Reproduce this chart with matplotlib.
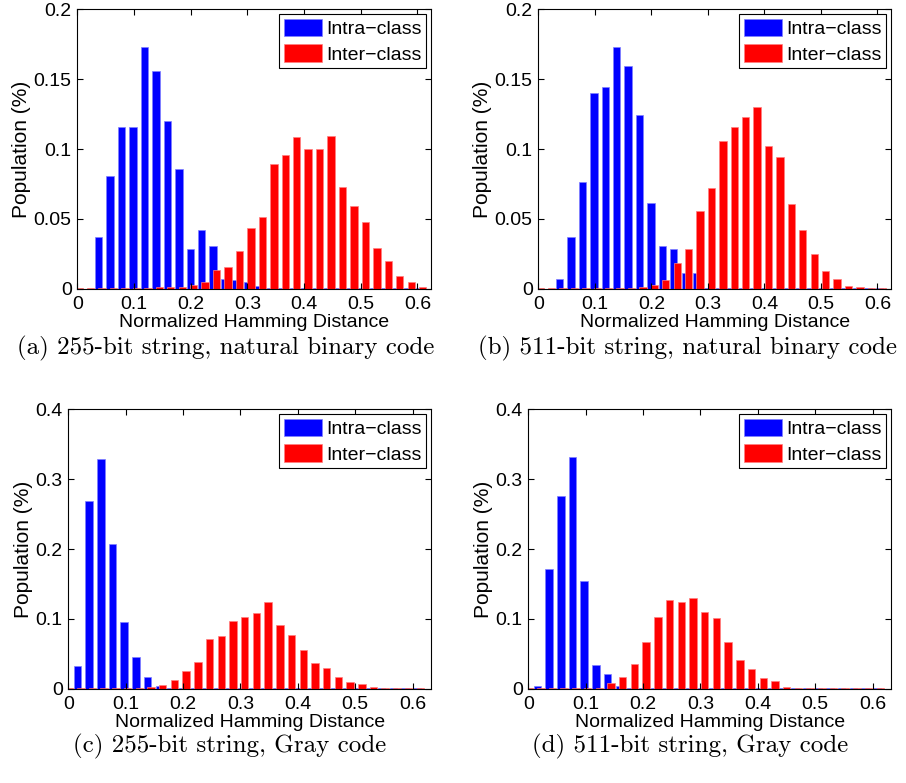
import numpy as np
import matplotlib
matplotlib.use("Agg")
import matplotlib.pyplot as plt

plt.rcParams["font.family"] = ["Liberation Sans", "DejaVu Sans"]

# histogram bin centres (normalized Hamming distance), one set per code type
bins_nbc = np.round(np.arange(31) * 0.0202 - 0.0027, 4)
bins_gray = np.round(np.arange(31) * 0.0204 - 0.0046, 4)

# (a) 255-bit, natural binary code
intra_a = [0, 0, 0.0373, 0.081, 0.1159, 0.1159, 0.1728, 0.1556, 0.1202, 0.0855,
           0.0287, 0.042, 0.0308, 0.0067, 0.006, 0.0046, 0.0022, 0.0005, 0.0004, 0.0004,
           0.0004, 0.0004, 0.0004, 0.0004, 0.0004, 0.0004, 0.0004, 0.0004, 0.0004, 0.0004, 0.0004]
inter_a = [0.0005, 0.0005, 0.0005, 0.0005, 0.0005, 0.0008, 0.0008, 0.001, 0.001, 0.0015,
           0.0024, 0.005, 0.0134, 0.0157, 0.027, 0.0432, 0.0514, 0.0896, 0.096, 0.1087,
           0.1001, 0.1001, 0.109, 0.0729, 0.0593, 0.0476, 0.0289, 0.0198, 0.0091, 0.0045, 0.0014]

# (b) 511-bit, natural binary code
intra_b = [0, 0, 0.0067, 0.0373, 0.0767, 0.140, 0.1443, 0.1728, 0.1596, 0.1245,
           0.0616, 0.0306, 0.0287, 0.0115, 0.0115, 0.0008, 0.0005, 0.0004, 0.0004, 0.0004,
           0.0004, 0.0004, 0.0004, 0.0004, 0.0004, 0.0004, 0.0004, 0.0004, 0.0004, 0.0004, 0.0004]
inter_b = [0.0005, 0.0005, 0.0005, 0.0005, 0.0005, 0.0005, 0.0005, 0.0005, 0.0005, 0.0014,
           0.003, 0.0062, 0.0185, 0.0286, 0.0559, 0.0722, 0.1054, 0.1154, 0.1231, 0.1302,
           0.102, 0.0944, 0.0605, 0.042, 0.0249, 0.0127, 0.0069, 0.0019, 0.0012, 0.0004, 0.0004]

# (c) 255-bit, Gray code
intra_c = [0, 0.0322, 0.2687, 0.3289, 0.2072, 0.0959, 0.0458, 0.0168, 0.0042, 0.0008,
           0.0008, 0.0008, 0.0008, 0.0008, 0.0008, 0.0008, 0.0008, 0.0008, 0.0008, 0.0008,
           0.0008, 0.0008, 0.0008, 0.0008, 0.0008, 0.0008, 0.0008, 0.0008, 0.0008, 0.0008, 0.0008]
inter_c = [0.0008, 0.0008, 0.0008, 0.0008, 0.0008, 0.0008, 0.0015, 0.003, 0.006, 0.0124,
           0.0253, 0.0377, 0.0711, 0.0754, 0.0974, 0.1031, 0.1088, 0.1241, 0.0912, 0.0773,
           0.0554, 0.0372, 0.0301, 0.0162, 0.0095, 0.0062, 0.0029, 0.0012, 0.0012, 0.0008, 0.0008]

# (d) 511-bit, Gray code
intra_d = [0, 0.0038, 0.1714, 0.2764, 0.3313, 0.1542, 0.0344, 0.021, 0.0038, 0.0008,
           0.0008, 0.0008, 0.0008, 0.0008, 0.0008, 0.0008, 0.0008, 0.0008, 0.0008, 0.0008,
           0.0008, 0.0008, 0.0008, 0.0008, 0.0008, 0.0008, 0.0008, 0.0008, 0.0008, 0.0008, 0.0008]
inter_d = [0.0008, 0.0008, 0.0008, 0.0008, 0.0008, 0.0008, 0.0015, 0.008, 0.0165, 0.0358,
           0.0668, 0.1026, 0.1265, 0.1246, 0.1303, 0.1103, 0.1017, 0.0668, 0.0406, 0.0282,
           0.0148, 0.011, 0.0029, 0.001, 0.0008, 0.0008, 0.0008, 0.0008, 0.0008, 0.0008, 0.0008]

x_ticks = [0, 0.1, 0.2, 0.3, 0.4, 0.5, 0.6]
x_tick_labels = ["0", "0.1", "0.2", "0.3", "0.4", "0.5", "0.6"]
y_ticks_nbc = [0, 0.05, 0.1, 0.15, 0.2]
y_tick_labels_nbc = ["0", "0.05", "0.1", "0.15", "0.2"]
y_ticks_gray = [0, 0.1, 0.2, 0.3, 0.4]
y_tick_labels_gray = ["0", "0.1", "0.2", "0.3", "0.4"]

captions = ["(a) 255-bit string, natural binary code",
            "(b) 511-bit string, natural binary code",
            "(c) 255-bit string, Gray code",
            "(d) 511-bit string, Gray code"]

W, H = 906, 783


def px_axes(left, top, right, bottom):
    return [left / W, 1 - bottom / H, (right - left) / W, (bottom - top) / H]


panels = [
    (px_axes(77.3, 9.3, 431, 288.7), bins_nbc, intra_a, inter_a, 0.624, 0.2,
     y_ticks_nbc, y_tick_labels_nbc),
    (px_axes(538.3, 9.3, 891, 288.7), bins_nbc, intra_b, inter_b, 0.624, 0.2,
     y_ticks_nbc, y_tick_labels_nbc),
    (px_axes(68.3, 409.3, 431, 688.7), bins_gray, intra_c, inter_c, 0.632, 0.4,
     y_ticks_gray, y_tick_labels_gray),
    (px_axes(528.3, 409.3, 891, 688.7), bins_gray, intra_d, inter_d, 0.632, 0.4,
     y_ticks_gray, y_tick_labels_gray),
]

fig = plt.figure(figsize=(W / 100, H / 100), dpi=100)

bar_w = 0.013
shift = 0.006
for rect, bins, intra, inter, xmax, ymax, yt, ytl in panels:
    ax = fig.add_axes(rect)
    ax.bar(bins, intra, width=bar_w, color="#0000ff", edgecolor="#7f7fff",
           linewidth=0.5, label="Intra\u2212class")
    ax.bar(bins + shift, inter, width=bar_w, color="#ff0000", edgecolor="#ff8080",
           linewidth=0.5, label="Inter\u2212class")
    ax.set_xlim(0, xmax)
    ax.set_ylim(0, ymax)
    ax.set_xticks(x_ticks, x_tick_labels)
    ax.set_yticks(yt, ytl)
    ax.tick_params(direction="in", top=True, right=True, length=4, width=0.8,
                   labelsize=14)
    ax.tick_params(axis="x", pad=5)
    ax.tick_params(axis="y", pad=4)
    for s in ax.spines.values():
        s.set_linewidth(0.8)
    ax.set_xlabel("Normalized Hamming Distance", fontsize=14, labelpad=1)
    ax.set_ylabel("Population (%)", fontsize=15, labelpad=2)
    leg = ax.legend(loc="upper right", fontsize=14, frameon=True, fancybox=False,
                    framealpha=1, edgecolor="black", borderaxespad=0.25,
                    borderpad=0.25, handlelength=1.95, handleheight=1.0,
                    handletextpad=0.2, labelspacing=0.3)
    leg.get_frame().set_linewidth(0.8)

cap_pos = [(226, 348), (688, 348), (230, 746), (690, 746)]
for (cx, cy), text in zip(cap_pos, captions):
    fig.text(cx / W, 1 - cy / H, text, ha="center", va="center",
             family="cmr10", fontsize=18)

fig.savefig("out.png", dpi=100)
